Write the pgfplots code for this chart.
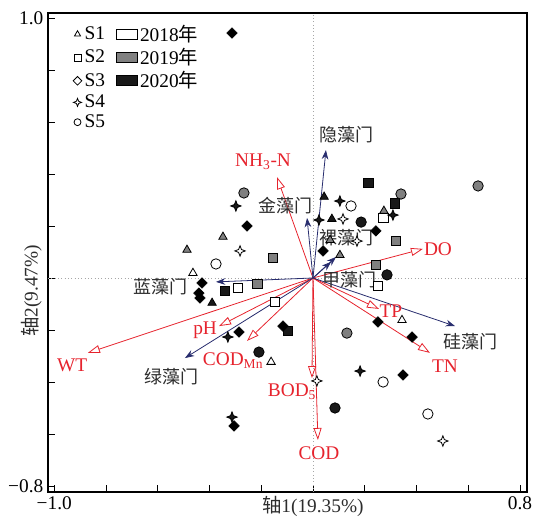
\documentclass[border=0pt]{standalone}
\usepackage{fontspec}
\setmainfont{Liberation Serif}
\newfontfamily\cjk{Noto Sans CJK SC}
\usepackage{pgfplots}
\pgfplotsset{compat=1.18}
\usetikzlibrary{arrows.meta}
\definecolor{redc}{RGB}{230,35,45}
\definecolor{navy}{RGB}{40,45,110}
\definecolor{midgray}{RGB}{128,128,128}
\definecolor{darkfill}{RGB}{25,25,25}
\definecolor{txt}{RGB}{45,45,45}
\pgfdeclareplotmark{star4}{%
\pgfpathmoveto{\pgfqpoint{0pt}{\pgfplotmarksize}}%
\pgfpathlineto{\pgfqpoint{0.28\pgfplotmarksize}{0.28\pgfplotmarksize}}%
\pgfpathlineto{\pgfqpoint{\pgfplotmarksize}{0pt}}%
\pgfpathlineto{\pgfqpoint{0.28\pgfplotmarksize}{-0.28\pgfplotmarksize}}%
\pgfpathlineto{\pgfqpoint{0pt}{-\pgfplotmarksize}}%
\pgfpathlineto{\pgfqpoint{-0.28\pgfplotmarksize}{-0.28\pgfplotmarksize}}%
\pgfpathlineto{\pgfqpoint{-\pgfplotmarksize}{0pt}}%
\pgfpathlineto{\pgfqpoint{-0.28\pgfplotmarksize}{0.28\pgfplotmarksize}}%
\pgfpathclose
\pgfusepathqfillstroke}
\newcommand\fs{\fontsize{14.5pt}{17pt}\selectfont}
\newcommand\cfs{\fontsize{13.5pt}{16pt}\selectfont\cjk}
\pgfplotsset{
  pt/.style={only marks, forget plot, mark options={draw=black, line width=0.6pt, fill=#1}},
  S1/.style={pt=#1, mark=triangle*, mark size=3.6pt},
  S2/.style={pt=#1, mark=square*, mark size=3.6pt},
  S3/.style={pt=#1, mark=square*, mark size=2.8pt, mark options={rotate=45}},
  S4/.style={pt=#1, mark=star4, mark size=3.9pt},
  S5/.style={pt=#1, mark=*, mark size=3.9pt},
  env/.style={redc, line width=0.6pt, forget plot, -{Triangle[open,length=9pt,width=6pt]}},
  spc/.style={navy, line width=0.6pt, forget plot, -{Stealth[length=7pt,width=5pt]}},
  lmark/.style={only marks, mark=#1, mark size=2.6pt, mark options={fill=white,draw=black,line width=0.6pt},
     legend image code/.code={\draw[##1] plot coordinates {(0pt,0pt)};}},
  lbox/.style={legend image code/.code={\draw[black, line width=0.6pt, fill=#1] (0pt,-3.75pt) rectangle (15.75pt,3.75pt);}},
}
\begin{document}
\begin{tikzpicture}
\begin{axis}[
  width=359.25pt, height=359.25pt, scale only axis,
  xmin=-1.0242, xmax=0.8271, ymin=-0.8231, ymax=1.0192,
  xtick={-1,-0.8,-0.6,-0.4,-0.2,0,0.2,0.4,0.6,0.8},
  xticklabels={−1.0,,,,,,,,,0.8},
  ytick={-0.8,-0.6,-0.4,-0.2,0,0.2,0.4,0.6,0.8,1.0},
  yticklabels={−0.8,,,,,,,,,1.0},
  tick pos=left, tick align=inside, major tick length=5pt,
  tick style={black, line width=0.6pt},
  axis line style={line width=0.8pt},
  ticklabel style={font=\fs},
  xlabel={{\cjk 轴}1(19.35\%)}, ylabel={{\cjk 轴}2(9.47\%)},
  label style={font=\fs, text=txt},
  xlabel style={at={(axis description cs:0.553,-0.008)}, anchor=north, inner sep=0pt},
  ylabel style={at={(axis description cs:-0.0125,0.42)}, anchor=south, inner sep=0pt},
  legend columns=2,
  legend cell align=left,
  legend style={at={(axis description cs:0.052,0.981)}, anchor=north west, draw=none, fill=none,
     font=\fs, row sep=-0.25pt, inner sep=0pt,
     /tikz/column 1/.append style={column sep=0pt},
     /tikz/every even column/.append style={column sep=6pt}},
]
% zero lines
\addplot[gray!70, dotted, line width=0.5pt, forget plot] coordinates {(-1.0242,0) (0.8271,0)};
\addplot[gray!70, dotted, line width=0.5pt, forget plot] coordinates {(0,-0.8231) (0,1.0192)};
% environmental arrows
\addplot[env] coordinates {(0,0) (-0.139,0.388)};
\addplot[env] coordinates {(0,0) (0.425,0.112)};
\addplot[env] coordinates {(0,0) (0.255,-0.119)};
\addplot[env] coordinates {(0,0) (0.452,-0.288)};
\addplot[env] coordinates {(0,0) (-0.004,-0.385)};
\addplot[env] coordinates {(0,0) (0.019,-0.623)};
\addplot[env] coordinates {(0,0) (-0.255,-0.242)};
\addplot[env] coordinates {(0,0) (-0.363,-0.185)};
\addplot[env] coordinates {(0,0) (-0.870,-0.288)};
% species arrows
\addplot[spc] coordinates {(0,0) (0.050,0.492)};
\addplot[spc] coordinates {(0,0) (-0.023,0.231)};
\addplot[spc] coordinates {(0,0) (0.089,0.081)};
\addplot[spc] coordinates {(0,0) (0.070,0.062)};
\addplot[spc] coordinates {(0,0) (-0.375,-0.015)};
\addplot[spc] coordinates {(0,0) (-0.495,-0.308)};
\addplot[spc] coordinates {(0,0) (0.549,-0.185)};
% S1 triangles
\addplot[S1=white] coordinates {(-0.464,0.019) (0.344,-0.162) (-0.162,-0.323)};
\addplot[S1=midgray] coordinates {(-0.348,0.158) (-0.487,0.108) (0.104,0.088) (0.274,0.258) (0.066,0.146)};
\addplot[S1=darkfill] coordinates {(0.043,0.312) (0.073,0.227) (-0.390,-0.096)};
% S2 squares
\addplot[S2=white] coordinates {(0.271,0.231) (0.251,-0.031) (-0.290,-0.038) (-0.147,-0.092)};
\addplot[S2=midgray] coordinates {(-0.155,0.077) (-0.216,-0.023) (0.243,0.050) (0.321,0.142)};
\addplot[S2=darkfill] coordinates {(0.213,0.365) (0.317,0.288) (-0.340,-0.050) (-0.097,-0.204)};
% S3 diamonds
\addplot[S3=white] coordinates {(-0.429,-0.019) (0.039,0.104) (-0.116,-0.185) (0.383,-0.227)};
\addplot[S3=midgray] coordinates {(-0.255,0.200) (0.243,0.181) (0.251,-0.169) (-0.437,-0.077)};
\addplot[S3=darkfill] coordinates {(-0.313,0.942) (-0.441,-0.058) (-0.286,-0.208) (0.348,-0.373) (-0.305,-0.569)};
% S4 stars
\addplot[S4=white] coordinates {(-0.282,0.104) (0.116,0.227) (0.170,0.142) (0.015,-0.396) (0.502,-0.627)};
\addplot[S4=darkfill] coordinates {(-0.298,0.277) (0.104,0.296) (0.023,0.223) (0.309,0.242) (-0.329,-0.227) (0.182,-0.358) (-0.313,-0.535)};
% S5 circles
\addplot[S5=white] coordinates {(-0.375,0.054) (0.147,0.277) (0.271,-0.400) (0.444,-0.523)};
\addplot[S5=midgray] coordinates {(-0.267,0.327) (0.340,0.323) (0.638,0.354) (0.131,-0.212)};
\addplot[S5=darkfill] coordinates {(0.186,0.215) (0.286,0.012) (-0.209,-0.285) (0.085,-0.500)};
% labels
\node[redc, font=\fs, inner sep=0pt] at (axis cs:-0.193,0.446) {NH\textsubscript{3}-N};
\node[redc, font=\fs, inner sep=0pt] at (axis cs:0.483,0.112) {DO};
\node[redc, font=\fs, inner sep=0pt] at (axis cs:0.301,-0.127) {TP};
\node[redc, font=\fs, inner sep=0pt] at (axis cs:0.510,-0.338) {TN};
\node[redc, font=\fs, inner sep=0pt] at (axis cs:-0.081,-0.438) {BOD\textsubscript{5}};
\node[redc, font=\fs, inner sep=0pt] at (axis cs:0.023,-0.673) {COD};
\node[redc, font=\fs, inner sep=0pt] at (axis cs:-0.309,-0.319) {COD\textsubscript{Mn}};
\node[redc, font=\fs, inner sep=0pt] at (axis cs:-0.417,-0.200) {pH};
\node[redc, font=\fs, inner sep=0pt] at (axis cs:-0.931,-0.335) {WT};
\node[txt, font=\cfs, inner sep=0pt] at (axis cs:0.131,0.550) {隐藻门};
\node[txt, font=\cfs, inner sep=0pt] at (axis cs:-0.108,0.277) {金藻门};
\node[txt, font=\cfs, inner sep=0pt] at (axis cs:0.131,0.154) {裸藻门};
\node[txt, font=\cfs, inner sep=0pt] at (axis cs:0.143,-0.008) {甲藻门};
\node[txt, font=\cfs, inner sep=0pt] at (axis cs:-0.591,-0.035) {蓝藻门};
\node[txt, font=\cfs, inner sep=0pt] at (axis cs:-0.545,-0.381) {绿藻门};
\node[txt, font=\cfs, inner sep=0pt] at (axis cs:0.607,-0.246) {硅藻门};
% legend
\addlegendimage{lmark=triangle*}\addlegendentry{S1}
\addlegendimage{lbox=white}\addlegendentry{2018{\cjk 年}}
\addlegendimage{lmark=square*}\addlegendentry{S2}
\addlegendimage{lbox=midgray}\addlegendentry{2019{\cjk 年}}
\addlegendimage{lmark=square*, mark options={rotate=45, fill=white, draw=black, line width=0.6pt}, mark size=2.3pt}\addlegendentry{S3}
\addlegendimage{lbox=darkfill}\addlegendentry{2020{\cjk 年}}
\addlegendimage{lmark=star4, mark size=3pt}\addlegendentry{S4}
\addlegendimage{empty legend}\addlegendentry{}
\addlegendimage{lmark=*}\addlegendentry{S5}
\addlegendimage{empty legend}\addlegendentry{}
\end{axis}
\path (-36pt,-16.5pt) rectangle (369pt,369pt);
\end{tikzpicture}
\end{document}
